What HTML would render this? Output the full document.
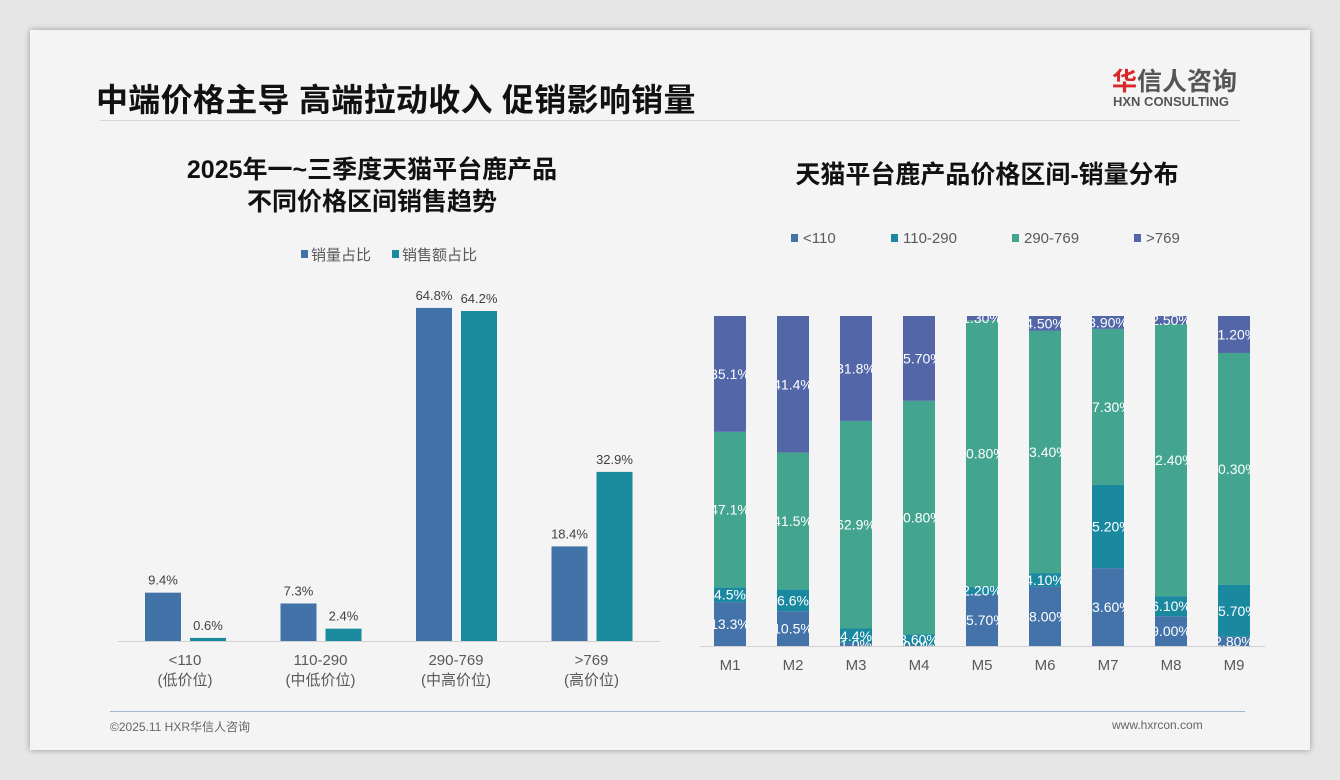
<!DOCTYPE html>
<html><head><meta charset="utf-8"><style>
body{margin:0;width:1340px;height:780px;background:#e6e6e6;font-family:"Liberation Sans","Noto Sans CJK SC",sans-serif;overflow:hidden;position:relative}
#slide{position:absolute;left:30px;top:30px;width:1280px;height:720px;background:#f4f4f4;box-shadow:0 0 6px rgba(0,0,0,.35)}
.t{position:absolute;white-space:nowrap}
</style></head><body>
<div id="slide"></div>
<div class="t" style="left:96px;top:75px;font-size:32px;font-weight:bold;color:#111;letter-spacing:0.3px">中端价格主导 高端拉动收入 促销影响销量</div>
<div style="position:absolute;left:100px;top:120px;width:1140px;height:1px;background:#d8d8d8"></div>
<div class="t" style="left:1112px;top:62px;font-size:25px;color:#555;font-weight:bold"><span style="color:#d9262b">华</span>信人咨询</div>
<div class="t" style="left:1113px;top:94px;font-size:13px;color:#555;font-weight:bold">HXN CONSULTING</div>
<div class="t" style="left:122px;top:154px;width:500px;text-align:center;font-size:25px;font-weight:bold;color:#111;line-height:32px">2025年一~三季度天猫平台鹿产品<br>不同价格区间销售趋势</div>
<div class="t" style="left:737px;top:155px;width:500px;text-align:center;font-size:25px;font-weight:bold;color:#111">天猫平台鹿产品价格区间-销量分布</div>
<div style="position:absolute;left:110px;top:711px;width:1135px;height:1px;background:#9fb6d0"></div>
<div class="t" style="left:110px;top:718px;font-size:12px;color:#666">©2025.11 HXR华信人咨询</div>
<div class="t" style="left:1112px;top:718px;font-size:12px;color:#666">www.hxrcon.com</div>
<svg id="chart" width="1340" height="780" style="position:absolute;left:0;top:0"></svg>
<script>
const leftCats=["<110","110-290","290-769",">769"];
const leftSub=["(低价位)","(中低价位)","(中高价位)","(高价位)"];
const leftVol=[9.4,7.3,64.8,18.4];
const leftRev=[0.6,2.4,64.2,32.9];
const leftSeries=["销量占比","销售额占比"];
const months=["M1","M2","M3","M4","M5","M6","M7","M8","M9"];
const rightSeries=["<110","110-290","290-769",">769"];
const s110=[13.3,10.5,0.9,0.3,15.7,18.0,23.6,9.0,2.8];
const s290=[4.5,6.6,4.4,3.2,2.2,4.1,25.2,6.1,15.7];
const s769=[47.1,41.5,62.9,70.8,80.8,73.4,47.3,82.4,70.3];
const sTop=[35.1,41.4,31.8,25.7,1.3,4.5,3.9,2.5,11.2];
const labels110=["13.3%","10.5%","1.0%","0.0%","15.70%","18.00%","23.60%","9.00%","2.80%"];
const labels290=["4.5%","6.6%","4.4%","3.60%","2.20%","4.10%","25.20%","6.10%","15.70%"];
const labels769=["47.1%","41.5%","62.9%","70.80%","80.80%","73.40%","47.30%","82.40%","70.30%"];
const labelsTop=["35.1%","41.4%","31.8%","25.70%","1.30%","4.50%","3.90%","2.50%","11.20%"];
const NS="http://www.w3.org/2000/svg";
const svg=document.getElementById('chart');
function mk(tag,at,txt,parent){const e=document.createElementNS(NS,tag);for(const k in at)e.setAttribute(k,at[k]);if(txt!=null)e.textContent=txt;(parent||svg).appendChild(e);return e;}
const F='"Liberation Sans","Noto Sans CJK SC",sans-serif';
// left chart
const lBase=641,lScale=5.14;
const lx=i=>145+i*135.5;
const ly=v=>lBase-v*lScale;
const cVol="#4172a8",cRev="#1a8a9e";
let e=mk('line',{x1:118,y1:641.5,x2:660,y2:641.5,stroke:'#d0d0d0'});

leftCats.forEach((c,i)=>{
  let b=mk('rect',{x:lx(i),y:ly(leftVol[i]),width:36,height:leftVol[i]*lScale,fill:cVol});
  
  let b2=mk('rect',{x:lx(i)+45,y:ly(leftRev[i]),width:36,height:leftRev[i]*lScale,fill:cRev});
  
  let t=mk('text',{x:lx(i)+18,y:ly(leftVol[i])-8,'text-anchor':'middle','font-size':13,fill:'#404040','font-family':F},leftVol[i].toFixed(1)+'%');
  
  let t2=mk('text',{x:lx(i)+63,y:ly(leftRev[i])-8,'text-anchor':'middle','font-size':13,fill:'#404040','font-family':F},leftRev[i].toFixed(1)+'%');
  
  let c1=mk('text',{x:lx(i)+40,y:665,'text-anchor':'middle','font-size':15,fill:'#595959','font-family':F},c);
  
  let c2=mk('text',{x:lx(i)+40,y:685,'text-anchor':'middle','font-size':15,fill:'#595959','font-family':F},leftSub[i]);
  
});
[[cVol,301,leftSeries[0]],[cRev,392,leftSeries[1]]].forEach((l,i)=>{
  let r=mk('rect',{x:l[1],y:250,width:7,height:8,fill:l[0]});
  
  let t=mk('text',{x:l[1]+10,y:260,'font-size':15,fill:'#595959','font-family':F},l[2]);
  
});
// right chart
const rBase=646,rH=330;
const rx=i=>714+i*63;
const ry=v=>rBase-v/100*rH;
const cols=["#4373a9","#1a89a0","#43a58f","#5266a8"];
e=mk('line',{x1:700,y1:646.5,x2:1265,y2:646.5,stroke:'#d0d0d0'});

const defs=mk('defs',{});
const series=[s110,s290,s769,sTop], labs=[labels110,labels290,labels769,labelsTop];
months.forEach((m,i)=>{
  const cp=mk('clipPath',{id:'cp'+i},null,defs);
  mk('rect',{x:rx(i),y:rBase-rH,width:32,height:rH},null,cp);
  const tot=s110[i]+s290[i]+s769[i]+sTop[i];
  let cum=0;
  series.forEach((s,k)=>{
    const v=s[i]/tot*100;
    let r=mk('rect',{x:rx(i),y:ry(cum+v),width:32,height:v/100*rH,fill:cols[k]});
    
    cum+=v;
  });
  cum=0;
  series.forEach((s,k)=>{
    const v=s[i]/tot*100;
    let t=mk('text',{x:rx(i)+16,y:ry(cum+v/2)+5,'text-anchor':'middle','font-size':14,fill:'#fff','font-family':F,'clip-path':'url(#cp'+i+')'},labs[k][i]);
    
    cum+=v;
  });
  let c=mk('text',{x:rx(i)+16,y:670,'text-anchor':'middle','font-size':15,fill:'#595959','font-family':F},m);
  
});
const legX=[791,891,1012,1134];
rightSeries.forEach((s,k)=>{
  let r=mk('rect',{x:legX[k],y:234,width:7,height:8,fill:cols[k]});
  
  let t=mk('text',{x:legX[k]+12,y:243,'font-size':15,fill:'#595959','font-family':F},s);
  
});
</script>
</body></html>
